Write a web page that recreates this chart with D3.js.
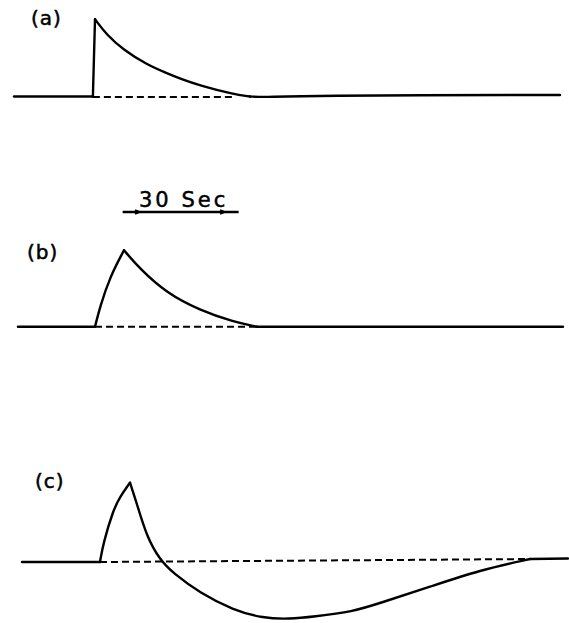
<!DOCTYPE html>
<html lang="en">
<head>
    <meta charset="UTF-8">
    <title>Response traces</title>
    <script src="https://d3js.org/d3.v7.min.js"></script>
    <style>
        body { margin: 0; background: #fff; }
        .trace { fill: none; stroke: #000; stroke-width: 2.4; stroke-linejoin: round; stroke-linecap: round; }
        .base { fill: none; stroke: #000; stroke-width: 2; stroke-dasharray: 7 4; }
        .label { font-family: "DejaVu Sans", sans-serif; font-size: 20px; fill: #000; stroke: #000; stroke-width: 0.5; }
    </style>
</head>
<body>
    <svg id="chart" width="569" height="623"></svg>

    <script>
        // times in seconds, values relative to each trace's peak
        const timeA = [0, 20.4, 20.95, 23.97, 28.27, 34.32, 39.49, 42.93, 48.1, 56.7, 61.0, 64.9, 74.0, 141.2];
        const valueA = [0, 0, 0.99, 0.79, 0.60, 0.41, 0.30, 0.23, 0.14, 0.03, 0, -0.01, 0.013, 0.02];

        const timeB = [1.03, 20.95, 22.24, 24.83, 28.45, 32.59, 39.49, 48.1, 56.64, 62.77, 141.98];
        const valueB = [0, 0, 0.256, 0.64, 0.98, 0.74, 0.43, 0.21, 0.064, 0, 0];

        const timeC = [2.07, 22.24, 23.1, 25.68, 27.41, 30.0, 31.73, 34.32, 37.76, 41.12, 48.1, 56.64, 64.4, 71.38, 77.33, 87.67, 94.65, 107.59, 120.52, 133.45, 143.28];
        const valueC = [0, 0, 0.244, 0.667, 0.837, 1.017, 0.756, 0.324, 0.026, -0.141, -0.397, -0.615, -0.722, -0.731, -0.701, -0.637, -0.526, -0.317, -0.103, 0.038, 0.045];

        // sharp corners where the pen changes direction abruptly
        const cornersA = [1, 2, 10];
        const cornersB = [1, 4, 9];
        const cornersC = [1, 5, 19];

        // dashed reference baseline: [start time, end time, start value, end value]
        const dashA = [20.4, 56.7, -0.005, -0.005];
        const dashB = [20.95, 62.77, 0, 0];
        const dashC = [22.24, 133.45, 0, 0.038];

        const panelLabels = ["(a)", "(b)", "(c)"];
        const scaleBarSeconds = 30;
        const scaleBarStart = 28.1;
        const scaleBarText = "30 Sec";

        const svg = d3.select("#chart");
        const x = d3.scaleLinear().domain([0, 150]).range([14, 14 + 150 * 116 / 30]);

        const panels = [
            { time: timeA, value: valueA, corners: cornersA, dash: dashA, label: panelLabels[0], base: 96.5, lx: 31, ly: 25 },
            { time: timeB, value: valueB, corners: cornersB, dash: dashB, label: panelLabels[1], base: 326.7, lx: 27, ly: 259 },
            { time: timeC, value: valueC, corners: cornersC, dash: dashC, label: panelLabels[2], base: 562, lx: 35, ly: 488 }
        ];

        panels.forEach(p => {
            const y = d3.scaleLinear().domain([-1, 1]).range([p.base + 78, p.base - 78]);
            const pts = p.time.map((t, i) => [t, p.value[i]]);

            // split the trace at the corners and smooth each piece
            const cuts = [0, ...p.corners, pts.length - 1];
            const line = d3.line()
                .x(d => x(d[0]))
                .y(d => y(d[1]))
                .curve(d3.curveBasis);

            const g = svg.append("g");
            for (let i = 0; i < cuts.length - 1; i++) {
                g.append("path")
                    .attr("class", "trace")
                    .attr("d", line(pts.slice(cuts[i], cuts[i + 1] + 1)));
            }

            g.append("line")
                .attr("class", "base")
                .attr("x1", x(p.dash[0]))
                .attr("x2", x(p.dash[1]))
                .attr("y1", y(p.dash[2]))
                .attr("y2", y(p.dash[3]));

            g.append("text")
                .attr("class", "label")
                .attr("x", p.lx)
                .attr("y", p.ly)
                .style("letter-spacing", "1px")
                .text(p.label);
        });

        // 30 second scale bar
        const barY = 212;
        const bar = svg.append("g");
        bar.append("line")
            .attr("x1", x(scaleBarStart))
            .attr("x2", x(scaleBarStart + scaleBarSeconds))
            .attr("y1", barY)
            .attr("y2", barY)
            .attr("stroke", "#000")
            .attr("stroke-width", 2.5);
        [scaleBarStart + 4.5, scaleBarStart + 26.5].forEach(t => {
            bar.append("path")
                .attr("d", `M${x(t) - 5},${barY - 2} L${x(t)},${barY} L${x(t) - 5},${barY + 2}`)
                .attr("fill", "none")
                .attr("stroke", "#000")
                .attr("stroke-width", 1.5);
        });
        bar.append("text")
            .attr("class", "label")
            .attr("x", 139)
            .attr("y", 207)
            .style("font-size", "21px")
            .style("letter-spacing", "3px")
            .text(scaleBarText);
    </script>
</body>
</html>
